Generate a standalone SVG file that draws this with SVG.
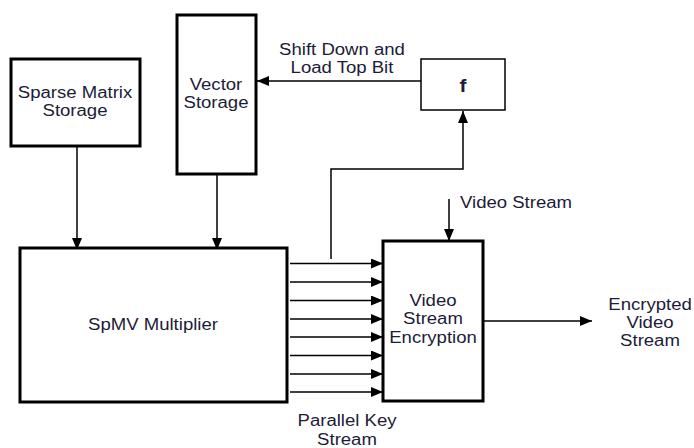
<svg xmlns="http://www.w3.org/2000/svg" width="694" height="448" viewBox="0 0 694 448">
<style>
.box{fill:#fff;stroke:#000;stroke-width:3}
.thin{fill:#fff;stroke:#000;stroke-width:1.5}
.ln{fill:none;stroke:#000;stroke-width:1.5}
text{font-family:"Liberation Sans",Arial,sans-serif;font-size:16px;fill:#1c1c38;text-anchor:middle}
</style>
<defs>
<marker id="ah" viewBox="0 0 12 10" refX="12" refY="5" markerWidth="12" markerHeight="10" markerUnits="userSpaceOnUse" orient="auto">
<path d="M0,0L12,5L0,10z" fill="#000"/>
</marker>
</defs>
<g id="connectors">
<line class="ln" x1="77" y1="146" x2="77" y2="250" marker-end="url(#ah)"/>
<line class="ln" x1="217" y1="174" x2="217" y2="250" marker-end="url(#ah)"/>
<line class="ln" x1="421" y1="81" x2="257" y2="81" marker-end="url(#ah)"/>
<polyline class="ln" points="331,259 331,169 463,169 463,111" marker-end="url(#ah)"/>
<line class="ln" x1="449" y1="199" x2="449" y2="241" marker-end="url(#ah)"/>
<line class="ln" x1="483" y1="321" x2="592" y2="321" marker-end="url(#ah)"/>
<line class="ln" x1="290" y1="263.5" x2="383" y2="263.5" marker-end="url(#ah)"/>
<line class="ln" x1="290" y1="282" x2="383" y2="282" marker-end="url(#ah)"/>
<line class="ln" x1="290" y1="300.5" x2="383" y2="300.5" marker-end="url(#ah)"/>
<line class="ln" x1="290" y1="319" x2="383" y2="319" marker-end="url(#ah)"/>
<line class="ln" x1="290" y1="337" x2="383" y2="337" marker-end="url(#ah)"/>
<line class="ln" x1="290" y1="355.5" x2="383" y2="355.5" marker-end="url(#ah)"/>
<line class="ln" x1="290" y1="374" x2="383" y2="374" marker-end="url(#ah)"/>
<line class="ln" x1="290" y1="392" x2="383" y2="392" marker-end="url(#ah)"/>
<text transform="translate(342,55) scale(1.16,1)">Shift Down and</text>
<text transform="translate(342,73) scale(1.16,1)">Load Top Bit</text>
<text transform="translate(460,208) scale(1.16,1)" style="text-anchor:start">Video Stream</text>
<text transform="translate(650,310) scale(1.16,1)">Encrypted</text>
<text transform="translate(650,328) scale(1.16,1)">Video</text>
<text transform="translate(650,346) scale(1.16,1)">Stream</text>
<text transform="translate(347,426) scale(1.16,1)">Parallel Key</text>
<text transform="translate(347,445) scale(1.16,1)">Stream</text>
</g>
<g id="sparse">
<rect class="box" x="11" y="59" width="129" height="87"/>
<text transform="translate(75,98) scale(1.16,1)">Sparse Matrix</text>
<text transform="translate(75,116) scale(1.16,1)">Storage</text>
</g>
<g id="vector">
<rect class="box" x="177" y="15" width="79" height="159"/>
<text transform="translate(216,90) scale(1.16,1)">Vector</text>
<text transform="translate(216,108) scale(1.16,1)">Storage</text>
</g>
<g id="f">
<rect class="thin" x="421" y="59" width="84" height="51"/>
<text transform="translate(463,92) scale(1.16,1)" style="font-weight:bold;font-size:18px">f</text>
</g>
<g id="spmv">
<rect class="box" x="20" y="248" width="267" height="154"/>
<text transform="translate(153,330) scale(1.16,1)">SpMV Multiplier</text>
</g>
<g id="vse">
<rect class="box" x="383" y="241" width="100" height="160"/>
<text transform="translate(433,306) scale(1.16,1)">Video</text>
<text transform="translate(433,324) scale(1.16,1)">Stream</text>
<text transform="translate(433,343) scale(1.16,1)">Encryption</text>
</g>
</svg>
